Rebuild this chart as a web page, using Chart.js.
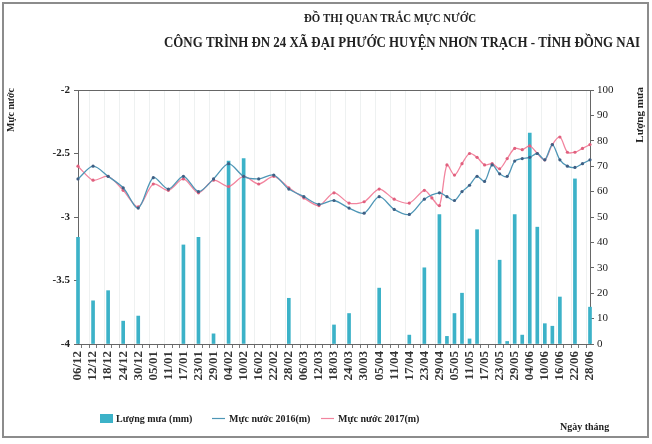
<!DOCTYPE html>
<html>
<head>
<meta charset="utf-8">
<script src="https://cdn.jsdelivr.net/npm/chart.js@4"></script>
<style>
  html, body { margin: 0; padding: 0; background: #fff; }
  #wrap { width: 652px; height: 444px; }
</style>
</head>
<body>
<div id="wrap"><canvas id="levelChart" width="652" height="444"></canvas></div>
<script>
// tick labels every 6 days, data every 3 days
const tickLabels = ['06/12', '12/12', '18/12', '24/12', '30/12', '05/01', '11/01', '17/01', '23/01', '29/01',
  '04/02', '10/02', '16/02', '22/02', '28/02', '06/03', '12/03', '18/03', '24/03', '30/03',
  '05/04', '11/04', '17/04', '23/04', '29/04', '05/05', '11/05', '17/05', '23/05', '29/05',
  '04/06', '10/06', '16/06', '22/06', '28/06'];

// Lượng mưa (mm)
const rain = [
  42, null, 17, null, 21, null, 9, null, 11, null,
  null, null, null, null, 39, null, 42, null, 4, null,
  72, null, 73, null, null, null, null, null, 18, null,
  null, null, null, null, 7.5, null, 12, null, null, null,
  22, null, null, null, 3.5, null, 30, null, 51, 3,
  12, 20, 2, 45, null, null, 33, 1, 51, 3.5,
  83, 46, 8, 7, 18.5, null, 65, null, 14.5
];

// Mực nước 2016 (m)
const level2016 = [
  -2.70, null, -2.60, null, -2.68, null, -2.77, null, -2.93, null,
  -2.69, null, -2.78, null, -2.68, null, -2.80, null, -2.70, null,
  -2.58, null, -2.68, null, -2.70, null, -2.67, null, -2.78, null,
  -2.84, null, -2.90, null, -2.87, null, -2.93, null, -2.97, null,
  -2.84, null, -2.94, null, -2.98, null, -2.86, null, -2.81, -2.84,
  -2.87, -2.80, -2.75, -2.68, -2.72, -2.59, -2.66, -2.68, -2.56, -2.54,
  -2.53, -2.50, -2.55, -2.43, -2.55, -2.60, -2.61, -2.58, -2.55
];

// Mực nước 2017 (m)
const level2017 = [
  -2.60, null, -2.71, null, -2.68, null, -2.79, null, -2.92, null,
  -2.74, null, -2.79, null, -2.70, null, -2.81, null, -2.71, null,
  -2.76, null, -2.68, null, -2.74, null, -2.68, null, -2.77, null,
  -2.85, null, -2.91, null, -2.81, null, -2.89, null, -2.88, null,
  -2.78, null, -2.86, null, -2.89, null, -2.79, -2.85, -2.91, -2.59,
  -2.67, -2.58, -2.50, -2.53, -2.59, -2.58, -2.62, -2.54, -2.46, -2.47,
  -2.44, -2.50, -2.55, -2.43, -2.37, -2.49, -2.49, -2.46, -2.43
];

const categories = [];
tickLabels.forEach((t, k) => {
  categories.push(t);
  if (k < tickLabels.length - 1) categories.push('');
});

const SERIF = '"Liberation Serif", "Times New Roman", serif';
const RAIN_COLOR = '#3cb2c8';
const C2016 = '#4e96b6';
const C2017 = '#f2849e';

// title, axis titles, legend, frame
const decor = {
  id: 'decor',
  afterDraw(chart) {
    const ctx = chart.ctx;
    const area = chart.chartArea;
    ctx.save();

    // frame
    ctx.strokeStyle = '#8c8c8c';
    ctx.lineWidth = 2;
    ctx.strokeRect(3, 3, 645, 434);

    // top border of plot
    ctx.strokeStyle = '#666';
    ctx.lineWidth = 1;
    ctx.beginPath();
    ctx.moveTo(area.left, area.top + 0.5);
    ctx.lineTo(area.right, area.top + 0.5);
    ctx.stroke();

    ctx.fillStyle = '#222';
    ctx.textAlign = 'center';
    ctx.textBaseline = 'alphabetic';
    ctx.font = 'bold 13px ' + SERIF;
    ctx.fillText('ĐỒ THỊ QUAN TRẮC MỰC NƯỚC', 390, 22, 172);
    ctx.font = 'bold 14px ' + SERIF;
    ctx.fillText('CÔNG TRÌNH ĐN 24 XÃ ĐẠI PHƯỚC HUYỆN NHƠN TRẠCH - TỈNH ĐỒNG NAI', 402, 47, 476);

    // axis titles
    ctx.font = 'bold 10px ' + SERIF;
    ctx.save();
    ctx.translate(14, 88);
    ctx.rotate(-Math.PI / 2);
    ctx.textAlign = 'right';
    ctx.fillText('Mực nước', 0, 0);
    ctx.restore();

    ctx.font = 'bold 11px ' + SERIF;
    ctx.save();
    ctx.translate(643, 87);
    ctx.rotate(-Math.PI / 2);
    ctx.textAlign = 'right';
    ctx.fillText('Lượng mưa', 0, 0, 64);
    ctx.restore();

    // legend
    ctx.font = 'bold 10px ' + SERIF;
    ctx.textAlign = 'left';
    ctx.textBaseline = 'middle';
    ctx.fillStyle = RAIN_COLOR;
    ctx.fillRect(100, 414, 13, 9);
    ctx.fillStyle = '#222';
    ctx.fillText('Lượng mưa (mm)', 116, 419);

    ctx.strokeStyle = C2016;
    ctx.lineWidth = 1.2;
    ctx.beginPath();
    ctx.moveTo(212, 418.5);
    ctx.lineTo(225, 418.5);
    ctx.stroke();
    ctx.fillText('Mực nước 2016(m)', 229, 419);

    ctx.strokeStyle = C2017;
    ctx.beginPath();
    ctx.moveTo(321, 418.5);
    ctx.lineTo(334, 418.5);
    ctx.stroke();
    ctx.fillText('Mực nước 2017(m)', 338, 419);

    ctx.fillText('Ngày tháng', 560, 427);
    ctx.restore();
  }
};

new Chart(document.getElementById('levelChart'), {
  data: {
    labels: categories,
    datasets: [
      {
        type: 'line',
        label: 'Mực nước 2016(m)',
        data: level2016,
        yAxisID: 'y',
        borderColor: C2016,
        borderWidth: 1.3,
        pointRadius: 1.6,
        pointBackgroundColor: '#3f5f84',
        pointBorderWidth: 0,
        tension: 0.3,
        spanGaps: true,
        order: 0
      },
      {
        type: 'line',
        label: 'Mực nước 2017(m)',
        data: level2017,
        yAxisID: 'y',
        borderColor: C2017,
        borderWidth: 1.3,
        pointRadius: 1.6,
        pointBackgroundColor: '#e0607e',
        pointBorderWidth: 0,
        tension: 0.3,
        spanGaps: true,
        order: 1
      },
      {
        type: 'bar',
        label: 'Lượng mưa (mm)',
        data: rain,
        yAxisID: 'y1',
        backgroundColor: RAIN_COLOR,
        barThickness: 3,
        clip: false,
        order: 2
      }
    ]
  },
  options: {
    responsive: false,
    animation: false,
    layout: { padding: { top: 90, left: 0, right: 0, bottom: 0 } },
    plugins: {
      legend: { display: false },
      title: { display: false },
      tooltip: { enabled: false }
    },
    scales: {
      x: {
        type: 'category',
        offset: false,
        afterFit: s => { s.height = 100; },
        border: { display: true, color: '#666' },
        grid: {
          color: c => (c.index % 2 === 0 ? '#eef1f1' : 'rgba(0,0,0,0)'),
          tickColor: '#777',
          tickLength: 4
        },
        ticks: {
          autoSkip: false,
          maxRotation: 90,
          minRotation: 90,
          padding: 3,
          color: '#333',
          font: { family: SERIF, size: 13, weight: 'bold' },
          callback: (v, i) => categories[i]
        }
      },
      y: {
        position: 'left',
        min: -4,
        max: -2,
        afterFit: s => { s.width = 78; },
        border: { display: true, color: '#666' },
        grid: { drawOnChartArea: false, color: '#666', tickLength: 4 },
        ticks: {
          stepSize: 0.5,
          color: '#222',
          padding: 4,
          font: { family: SERIF, size: 11, weight: 'bold' },
          callback: v => String(v)
        }
      },
      y1: {
        position: 'right',
        min: 0,
        max: 100,
        afterFit: s => { s.width = 62; },
        border: { display: true, color: '#666' },
        grid: { drawOnChartArea: false, color: '#666', tickLength: 4 },
        ticks: {
          stepSize: 10,
          color: '#222',
          padding: 3,
          font: { family: SERIF, size: 11 }
        }
      }
    }
  },
  plugins: [decor]
});
</script>
</body>
</html>
